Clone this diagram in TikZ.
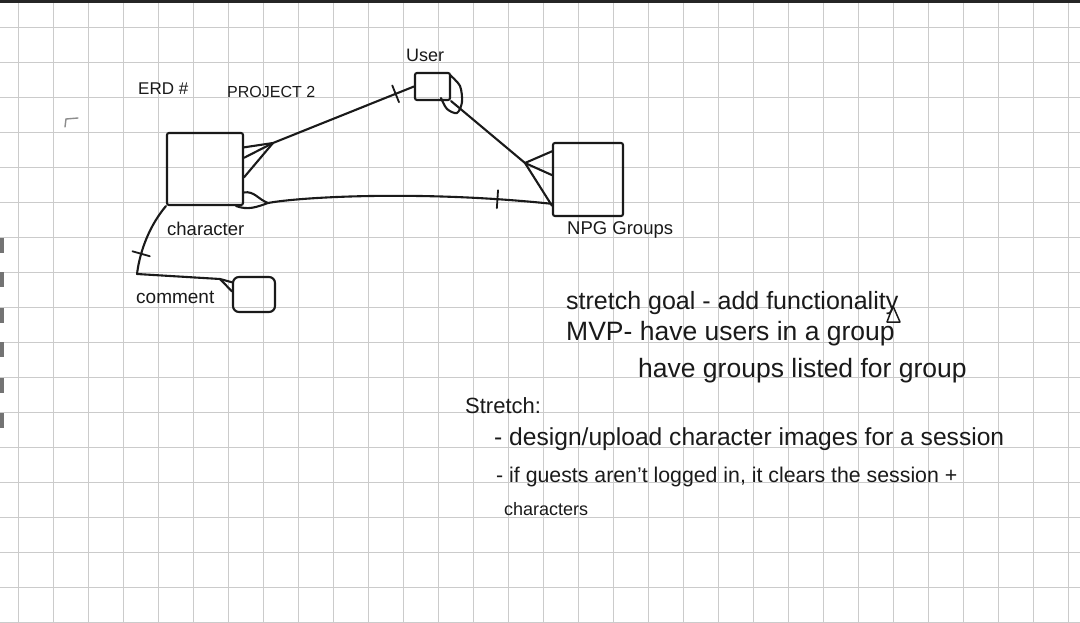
\documentclass[tikz,border=0pt]{standalone}
\usepackage{fontspec}
\setmainfont{Liberation Sans}
\usetikzlibrary{positioning}

\definecolor{ink}{HTML}{1A1A1A}
\definecolor{rule}{HTML}{CBCBCB}

\tikzset{
	pen/.style={draw=ink,line width=2.1pt,line cap=round,line join=round},
	entity/.style={draw=ink,line width=2.1pt,rectangle,rounded corners=2pt,inner sep=0pt},
	onebar/.style={draw=ink,line width=1.8pt,sloped,rectangle,minimum width=0pt,minimum height=18pt,inner sep=0pt},
	hand/.style={text=ink,anchor=base west,inner sep=0pt},
}

\begin{document}
\begin{tikzpicture}[x=1pt,y=-1pt]
	\useasboundingbox (0,0) rectangle (1080,623);
	\fill[white] (0,0) rectangle (1080,623);
	\foreach \x in {18,53,...,1080} \draw[rule,line width=0.7pt] (\x,0) -- (\x,623);
	\foreach \y in {27,62,...,623} \draw[rule,line width=0.7pt] (0,\y) -- (1080,\y);
	\fill[black!85] (0,0) rectangle (1080,3);
	\foreach \y in {238,272,308,342,378,413} \fill[black!55] (0,\y) rectangle (4,\y+15);
	\draw[black!45,line width=1.4pt,line cap=round] (65,127) -- (66,119) -- (78,118);

	\node[entity,minimum width=76,minimum height=72] at (205,169) (chr) {};
	\node[entity,minimum width=35,minimum height=27] at (432.5,86.5) (usr) {};
	\node[entity,minimum width=70,minimum height=73] at (588,179.5) (grp) {};
	\node[entity,rounded corners=6pt,minimum width=42,minimum height=35] at (254,294.5) (cmt) {};

	\node[hand,font=\fontsize{17}{20}\selectfont] at (138,95) (title) {ERD \#};
	\node[hand,font=\fontsize{16}{19}\selectfont] at (227,98) (proj) {PROJECT 2};
	\node[hand,font=\fontsize{18}{21}\selectfont] at (406,62) (lusr) {User};
	\node[hand,font=\fontsize{18.5}{22}\selectfont] at (167,236) (lchr) {character};
	\node[hand,font=\fontsize{19}{22}\selectfont] at (136,303) (lcmt) {comment};
	\node[hand,font=\fontsize{18.5}{22}\selectfont] at (567,235) (lgrp) {NPG Groups};

	\coordinate (cu) at (273,143);
	\draw[pen] (chr.29) -- (cu) -- node[onebar,pos=.87] (t1) {} (usr.west);
	\draw[pen] (chr.16) -- (cu);
	\draw[pen] (chr.-12) -- (cu);

	\coordinate (cg) at (268,203);
	\draw[pen] (chr.-31) to[out=10,in=160] (cg);
	\draw[pen] (chr.-50) to[out=-20,in=200] (cg);
	\draw[pen] (cg) .. controls (300,197) and (420,190) .. node[onebar,pos=.86] (t2) {} (grp.214);

	\coordinate (ug) at (525,163);
	\draw[pen] (usr.south east) -- (ug) -- (grp.216);
	\draw[pen] (ug) -- (grp.142);
	\draw[pen] (ug) -- (grp.173);
	\draw[pen] plot[smooth] coordinates {(450,75) (460,86) (462,102) (457,113) (447,109) (441,98)};

	\coordinate (cc) at (137,274);
	\coordinate (cm) at (220,279);
	\draw[pen] (chr.south west) .. controls (150,225) and (140,250) .. node[onebar,pos=.72] (t3) {} (cc) -- (cm) -- (cmt.151);
	\draw[pen] (cm) -- (cmt.172);

	\node[hand,font=\fontsize{25}{30}\selectfont] at (566,309) (n1) {stretch goal - add functionality};
	\draw[pen,line width=1.5pt] (893,306) -- (887,322) -- (900,322) -- cycle;
	\node[hand,font=\fontsize{26.5}{30}\selectfont] at (566,340) (n2) {MVP- have users in a group};
	\node[hand,font=\fontsize{26.5}{30}\selectfont] at (638,377) (n3) {have groups listed for group};
	\node[hand,font=\fontsize{22}{26}\selectfont] at (465,413) (n4) {Stretch:};
	\node[hand,font=\fontsize{24.6}{28}\selectfont] at (494,445) (n5) {- design/upload character images for a session};
	\node[hand,font=\fontsize{21.3}{26}\selectfont] at (496,482) (n6) {- if guests aren't logged in, it clears the session +};
	\node[hand,font=\fontsize{18}{22}\selectfont] at (504,515) (n7) {characters};
\end{tikzpicture}
\end{document}
